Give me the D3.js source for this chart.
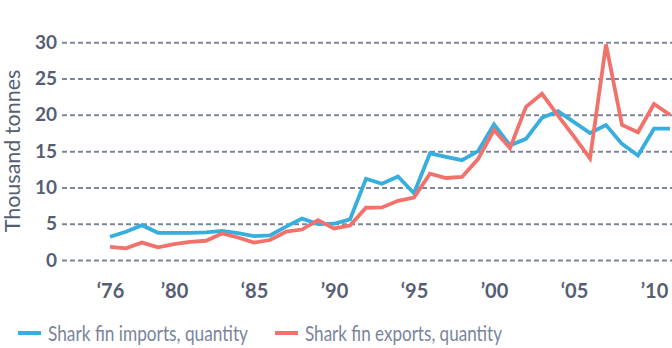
<!DOCTYPE html>
<html>
<head>
<meta charset="utf-8">
<script src="https://cdn.jsdelivr.net/npm/d3@7"></script>
<style>
  html, body { margin: 0; padding: 0; background: #fff; }
  svg { display: block; font-family: Lato, "Open Sans", sans-serif; }
</style>
</head>
<body>
<div id="chart"></div>
<script>
const years = d3.range(1976, 2012);

// thousand tonnes per year, 1976-2011
const imports = [3.2, 3.9, 4.8, 3.75, 3.75, 3.75, 3.8, 4.0, 3.7, 3.3,
  3.4, 4.6, 5.7, 4.95, 5.0, 5.6, 11.2, 10.5, 11.5, 9.2,
  14.7, 14.2, 13.75, 15.0, 18.7, 15.8, 16.7, 19.6, 20.5, 19.0,
  17.5, 18.6, 16.0, 14.4, 18.1, 18.1];
const exports = [1.8, 1.6, 2.4, 1.75, 2.2, 2.5, 2.65, 3.65, 3.1, 2.4,
  2.75, 3.9, 4.2, 5.5, 4.35, 4.75, 7.2, 7.25, 8.15, 8.6,
  11.9, 11.3, 11.45, 13.9, 17.9, 15.4, 21.1, 22.9, 19.9, 17.0,
  14.0, 29.7, 18.6, 17.6, 21.5, 20.0];

const yTicks = [0, 5, 10, 15, 20, 25, 30];
const xTicks = [1976, 1980, 1985, 1990, 1995, 2000, 2005, 2010];
const xTickLabels = ["‘76", "’80", "‘85", "’90", "‘95", "’00", "‘05", "’10"];

const series = [
  { name: "Shark fin imports, quantity", values: imports, color: "#36afdf" },
  { name: "Shark fin exports, quantity", values: exports, color: "#f3716b" }
];

const width = 672, height = 348;
const gridLeft = 62;

const svg = d3.select("#chart").append("svg")
  .attr("width", width)
  .attr("height", height);

const x = d3.scaleLinear().domain([1976, 2011]).range([110, 670]);
const y = d3.scaleLinear().domain([0, 30]).range([260, 42.3]);

// dashed horizontal grid with bold value labels
const yAxis = svg.append("g")
  .attr("transform", `translate(${gridLeft},0)`)
  .call(d3.axisLeft(y).tickValues(yTicks).tickSize(-(width - gridLeft)).tickPadding(5));
yAxis.select(".domain").remove();
yAxis.selectAll(".tick line")
  .attr("stroke", "#7d869b")
  .attr("stroke-width", 2)
  .attr("stroke-dasharray", "5,3");
yAxis.selectAll(".tick text")
  .attr("fill", "#565e74")
  .attr("font-size", 19)
  .attr("font-weight", 700)
  .attr("font-family", "Lato, sans-serif");

// year labels
const xAxis = svg.append("g")
  .attr("transform", "translate(0,284)")
  .call(d3.axisBottom(x).tickValues(xTicks).tickSize(0).tickPadding(0)
    .tickFormat((d, i) => xTickLabels[i]));
xAxis.select(".domain").remove();
xAxis.selectAll(".tick text")
  .attr("fill", "#565e74")
  .attr("font-size", 20)
  .attr("font-weight", 700)
  .attr("font-family", "Lato, sans-serif");

svg.append("text")
  .attr("transform", "translate(20,151) rotate(-90)")
  .attr("text-anchor", "middle")
  .attr("fill", "#565e74")
  .attr("font-size", 21.5)
  .text("Thousand tonnes");

const line = d3.line()
  .x((d, i) => x(years[i]))
  .y(d => y(d));

svg.selectAll("path.series")
  .data(series)
  .join("path")
  .attr("class", "series")
  .attr("fill", "none")
  .attr("stroke", d => d.color)
  .attr("stroke-width", 3.8)
  .attr("stroke-linejoin", "miter")
  .attr("d", d => line(d.values));

// legend
const legend = svg.selectAll("g.legend")
  .data(series)
  .join("g")
  .attr("class", "legend")
  .attr("transform", (d, i) => `translate(${[18, 275][i]},333)`);
legend.append("line")
  .attr("x1", 0).attr("x2", 23)
  .attr("stroke", d => d.color)
  .attr("stroke-width", 4);
legend.append("text")
  .attr("x", 30)
  .attr("dy", "0.35em")
  .attr("fill", "#7a849b")
  .attr("font-size", 22)
  .attr("textLength", (d, i) => [200, 197][i])
  .attr("lengthAdjust", "spacingAndGlyphs")
  .text(d => d.name);
</script>
</body>
</html>
